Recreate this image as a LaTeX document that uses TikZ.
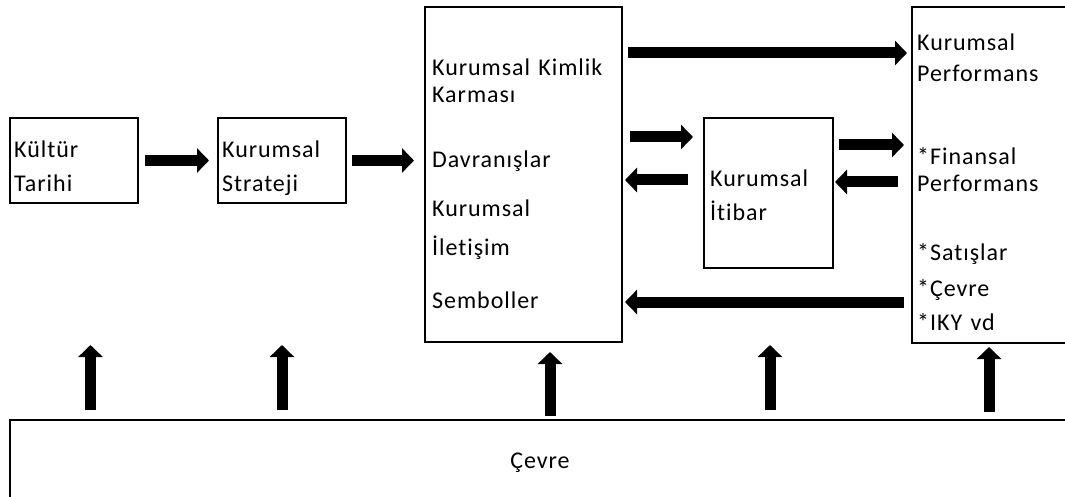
\documentclass[tikz,border=0pt]{standalone}
\usepackage{fontspec}
\setmainfont[LetterSpace=4,WordSpace=1.3,Ligatures=NoCommon]{Carlito}
\usetikzlibrary{arrows.meta}
\begin{document}
\begin{tikzpicture}[x=1pt,y=-1pt,
  box/.style={draw,line width=1.6pt,anchor=north west,inner sep=0pt,outer sep=0pt},
  bigarrow/.style={line width=11pt,-{Triangle[width=24pt,length=12pt]}},
  txt/.style={anchor=base west,inner sep=0pt,font=\fontsize{24}{28}\selectfont}]
\useasboundingbox (0,0) rectangle (1065,497);
% boxes
\node[box,minimum width=128pt,minimum height=85pt] (kultur) at (10,118) {};
\node[box,minimum width=128pt,minimum height=85pt] (strateji) at (218,118) {};
\node[box,minimum width=197pt,minimum height=335pt] (kimlik) at (425,7) {};
\node[box,minimum width=129pt,minimum height=150pt] (itibar) at (704,118) {};
\node[box,minimum width=170pt,minimum height=336pt] (perf) at (912,7) {};
\node[box,minimum width=1075pt,minimum height=100pt] (cevre) at (10,420) {};
% texts
\node[txt] (t1) at (14,158) {Kültür};
\node[txt] (t2) at (14,192) {Tarihi};
\node[txt] (t3) at (222,158) {Kurumsal};
\node[txt] (t4) at (222,192) {Strateji};
\node[txt] (t5) at (432,76) {Kurumsal Kimlik};
\node[txt] (t6) at (432,103) {Karması};
\node[txt] (t7) at (432,168) {Davranışlar};
\node[txt] (t8) at (432,217) {Kurumsal};
\node[txt] (t9) at (432,255) {İletişim};
\node[txt] (t10) at (432,308) {Semboller};
\node[txt] (t11) at (710,187) {Kurumsal};
\node[txt] (t12) at (710,220) {İtibar};
\node[txt] (t13) at (917,51) {Kurumsal};
\node[txt] (t14) at (917,82) {Performans};
\node[txt] (t15) at (917,165) {*Finansal};
\node[txt] (t16) at (917,192) {Performans};
\node[txt] (t17) at (917,260) {*Satışlar};
\node[txt] (t18) at (917,296) {*Çevre};
\node[txt] (t19) at (917,330) {*IKY vd};
\node[txt,anchor=base] (t20) at (540,468) {Çevre};
% horizontal arrows
\draw[bigarrow,shorten <=7pt,shorten >=9pt] (kultur.east) -- (strateji.west);
\draw[bigarrow,shorten <=6pt,shorten >=11pt] (strateji.east) -- (strateji.east -| kimlik.west);
\draw[bigarrow] ([shift={(6,46)}]kimlik.north east) -- ([shift={(-5,46)}]perf.north west);
\draw[bigarrow] ([shift={(8,130)}]kimlik.north east) -- ([shift={(-11,19)}]itibar.north west);
\draw[bigarrow] ([shift={(-16,62)}]itibar.north west) -- ([shift={(3,173)}]kimlik.north east);
\draw[bigarrow] ([shift={(6,27)}]itibar.north east) -- ([shift={(-8,138)}]perf.north west);
\draw[bigarrow] ([shift={(-14,175)}]perf.north west) -- ([shift={(2,64)}]itibar.north east);
\draw[bigarrow] ([shift={(-8,295)}]perf.north west) -- ([shift={(3,295)}]kimlik.north east);
% arrows rising from the environment box
\draw[bigarrow] ([shift={(80.5,-10)}]cevre.north west) -- ([shift={(80.5,-75)}]cevre.north west);
\draw[bigarrow] ([shift={(272,-10)}]cevre.north west) -- ([shift={(272,-75)}]cevre.north west);
\draw[bigarrow] ([shift={(540,-4)}]cevre.north west) -- ([shift={(540,-68)}]cevre.north west);
\draw[bigarrow] ([shift={(760,-10)}]cevre.north west) -- ([shift={(760,-75)}]cevre.north west);
\draw[bigarrow] ([shift={(979,-8)}]cevre.north west) -- ([shift={(979,-73)}]cevre.north west);
\end{tikzpicture}
\end{document}
